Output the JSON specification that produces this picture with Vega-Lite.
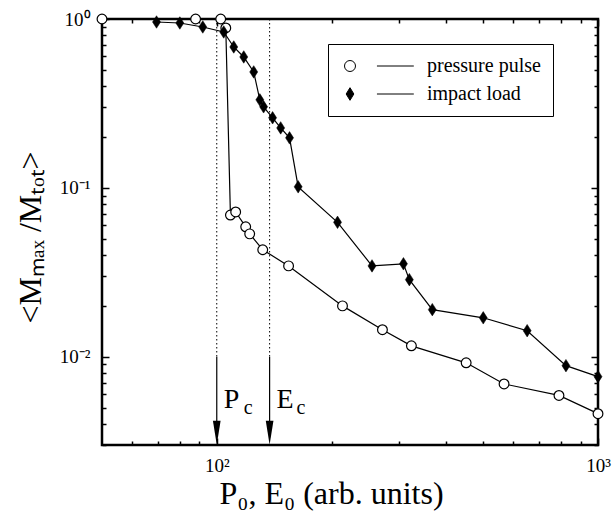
{
  "$schema": "https://vega.github.io/schema/vega-lite/v6.json",
  "width": 496,
  "height": 426,
  "autosize": {"type": "none"},
  "padding": {"left": 102, "top": 19, "right": 15, "bottom": 68},
  "background": "white",
  "config": {
    "view": {"stroke": "black", "strokeWidth": 2.5},
    "font": "Liberation Serif",
    "axis": {
      "grid": false,
      "domain": false,
      "tickColor": "black",
      "tickWidth": 1.5,
      "labelFont": "Liberation Serif",
      "labelFontSize": 19,
      "labelColor": "black",
      "labelOverlap": false,
      "labelFlush": false,
      "titleFont": "Liberation Serif",
      "titleFontWeight": "normal",
      "titleColor": "black"
    }
  },
  "datasets": {
    "curves": [
      {"series": "pressure pulse", "x": 50, "y": 1},
      {"series": "pressure pulse", "x": 88, "y": 1},
      {"series": "pressure pulse", "x": 102.4, "y": 1},
      {"series": "pressure pulse", "x": 105.6, "y": 0.885},
      {"series": "pressure pulse", "x": 108.6, "y": 0.069},
      {"series": "pressure pulse", "x": 112.1, "y": 0.072},
      {"series": "pressure pulse", "x": 119.1, "y": 0.0588},
      {"series": "pressure pulse", "x": 122, "y": 0.0534},
      {"series": "pressure pulse", "x": 132, "y": 0.043},
      {"series": "pressure pulse", "x": 154.3, "y": 0.0345},
      {"series": "pressure pulse", "x": 213.7, "y": 0.02},
      {"series": "pressure pulse", "x": 272, "y": 0.01445},
      {"series": "pressure pulse", "x": 324, "y": 0.0116},
      {"series": "pressure pulse", "x": 451, "y": 0.0092},
      {"series": "pressure pulse", "x": 567, "y": 0.0069},
      {"series": "pressure pulse", "x": 790, "y": 0.0059},
      {"series": "pressure pulse", "x": 1000, "y": 0.0046},
      {"series": "impact load", "x": 69.5, "y": 0.96},
      {"series": "impact load", "x": 80, "y": 0.947},
      {"series": "impact load", "x": 91.9, "y": 0.897},
      {"series": "impact load", "x": 104.3, "y": 0.838},
      {"series": "impact load", "x": 110.8, "y": 0.683},
      {"series": "impact load", "x": 117.7, "y": 0.596},
      {"series": "impact load", "x": 125, "y": 0.486},
      {"series": "impact load", "x": 129.7, "y": 0.332},
      {"series": "impact load", "x": 132.7, "y": 0.302},
      {"series": "impact load", "x": 140.1, "y": 0.26},
      {"series": "impact load", "x": 147.1, "y": 0.2265},
      {"series": "impact load", "x": 155.2, "y": 0.1977},
      {"series": "impact load", "x": 163.5, "y": 0.1014},
      {"series": "impact load", "x": 207.4, "y": 0.0625},
      {"series": "impact load", "x": 255.4, "y": 0.0345},
      {"series": "impact load", "x": 308.8, "y": 0.0355},
      {"series": "impact load", "x": 320, "y": 0.0286},
      {"series": "impact load", "x": 367.6, "y": 0.019},
      {"series": "impact load", "x": 500, "y": 0.017},
      {"series": "impact load", "x": 651.9, "y": 0.01426},
      {"series": "impact load", "x": 824, "y": 0.00885},
      {"series": "impact load", "x": 1000, "y": 0.00762}
    ],
    "thresholds": [
      {"x": 100, "main": "P", "sub": "c", "top": 1, "cut": 0.01, "bottom": 0.0034, "head": 0.00355, "mainY": 0.005, "subY": 0.0046},
      {"x": 137.6, "main": "E", "sub": "c", "top": 1, "cut": 0.01, "bottom": 0.0034, "head": 0.00355, "mainY": 0.005, "subY": 0.0046}
    ]
  },
  "layer": [
    {
      "data": {"name": "thresholds"},
      "mark": {"type": "rule", "strokeDash": [1.5, 2.5], "strokeWidth": 1, "color": "black"},
      "encoding": {
        "x": {"field": "x", "type": "quantitative", "scale": {"type": "log", "domain": [50, 1000], "nice": false}, "axis": null},
        "y": {"field": "top", "type": "quantitative", "scale": {"type": "log", "domain": [0.003, 1], "nice": false}, "axis": null},
        "y2": {"field": "cut"}
      }
    },
    {
      "data": {"name": "thresholds"},
      "mark": {"type": "rule", "strokeWidth": 1.2, "color": "black"},
      "encoding": {
        "x": {"field": "x", "type": "quantitative", "axis": null},
        "y": {"field": "cut", "type": "quantitative", "axis": null},
        "y2": {"field": "bottom"}
      }
    },
    {
      "data": {"name": "thresholds"},
      "mark": {"type": "point", "shape": "M-0.32,-1L0.32,-1L0,1Z", "size": 576, "filled": true, "fill": "black", "opacity": 1},
      "encoding": {
        "x": {"field": "x", "type": "quantitative", "axis": null},
        "y": {"field": "head", "type": "quantitative", "axis": null}
      }
    },
    {
      "data": {"name": "thresholds"},
      "mark": {"type": "text", "align": "left", "baseline": "alphabetic", "dx": 7, "fontSize": 28, "font": "Liberation Serif", "color": "black"},
      "encoding": {
        "x": {"field": "x", "type": "quantitative", "axis": null},
        "y": {"field": "mainY", "type": "quantitative", "axis": null},
        "text": {"field": "main"}
      }
    },
    {
      "data": {"name": "thresholds"},
      "mark": {"type": "text", "align": "left", "baseline": "alphabetic", "dx": 27, "fontSize": 20, "font": "Liberation Serif", "color": "black"},
      "encoding": {
        "x": {"field": "x", "type": "quantitative", "axis": null},
        "y": {"field": "subY", "type": "quantitative", "axis": null},
        "text": {"field": "sub"}
      }
    },
    {
      "data": {"name": "curves"},
      "transform": [{"filter": "datum.series == 'pressure pulse'"}],
      "mark": {"type": "line", "color": "black", "strokeWidth": 1.2},
      "encoding": {
        "x": {
          "field": "x", "type": "quantitative",
          "axis": {
            "orient": "bottom",
            "values": [100, 1000],
            "labelExpr": "datum.value == 100 ? '10²' : '10³'",
            "offset": -7,
            "tickSize": 7,
            "labelPadding": 11,
            "title": "P₀, E₀ (arb. units)",
            "titleFontSize": 32,
            "titleX": 229,
            "titleY": 65,
            "titleBaseline": "alphabetic"
          }
        },
        "y": {
          "field": "y", "type": "quantitative",
          "axis": {
            "orient": "left",
            "values": [0.01, 0.1, 1],
            "labelExpr": "datum.value == 1 ? '10⁰' : datum.value == 0.1 ? '10⁻¹' : '10⁻²'",
            "offset": -7,
            "tickSize": 7,
            "labelPadding": 12,
            "title": "<Mₘₐₓ /Mₜₒₜ>",
            "titleFontSize": 32,
            "titleX": -79,
            "titleY": 218,
            "titleAngle": -90,
            "titleBaseline": "middle",
            "titleAlign": "center"
          }
        }
      }
    },
    {
      "data": {"name": "curves"},
      "transform": [{"filter": "datum.series == 'impact load'"}],
      "mark": {"type": "line", "color": "black", "strokeWidth": 1.2},
      "encoding": {
        "x": {
          "field": "x", "type": "quantitative",
          "axis": {"orient": "top", "values": [100, 1000], "labels": false, "offset": -7, "tickSize": 7, "title": null}
        },
        "y": {
          "field": "y", "type": "quantitative",
          "axis": {"orient": "right", "values": [0.01, 0.1, 1], "labels": false, "offset": -7, "tickSize": 7, "title": null}
        }
      }
    },
    {
      "data": {"name": "curves"},
      "transform": [{"filter": "datum.series == 'pressure pulse'"}],
      "mark": {"type": "point", "shape": "circle", "size": 95, "filled": true, "fill": "white", "stroke": "black", "strokeWidth": 1.2, "opacity": 1},
      "encoding": {
        "x": {
          "field": "x", "type": "quantitative",
          "axis": {"orient": "bottom", "values": [60, 70, 80, 90, 200, 300, 400, 500, 600, 700, 800, 900], "labels": false, "offset": -4, "tickSize": 4, "title": null}
        },
        "y": {
          "field": "y", "type": "quantitative",
          "axis": {"orient": "left", "values": [0.003, 0.004, 0.005, 0.006, 0.007, 0.008, 0.009, 0.02, 0.03, 0.04, 0.05, 0.06, 0.07, 0.08, 0.09, 0.2, 0.3, 0.4, 0.5, 0.6, 0.7, 0.8, 0.9], "labels": false, "offset": -4, "tickSize": 4, "title": null}
        }
      }
    },
    {
      "data": {"name": "curves"},
      "transform": [{"filter": "datum.series == 'impact load'"}],
      "mark": {"type": "point", "shape": "M0,-1.25L0.8,0L0,1.25L-0.8,0Z", "size": 100, "filled": true, "fill": "black", "stroke": "black", "strokeWidth": 0.5, "opacity": 1},
      "encoding": {
        "x": {
          "field": "x", "type": "quantitative",
          "axis": {"orient": "top", "values": [60, 70, 80, 90, 200, 300, 400, 500, 600, 700, 800, 900], "labels": false, "offset": -4, "tickSize": 4, "title": null}
        },
        "y": {
          "field": "y", "type": "quantitative",
          "axis": {"orient": "right", "values": [0.003, 0.004, 0.005, 0.006, 0.007, 0.008, 0.009, 0.02, 0.03, 0.04, 0.05, 0.06, 0.07, 0.08, 0.09, 0.2, 0.3, 0.4, 0.5, 0.6, 0.7, 0.8, 0.9], "labels": false, "offset": -4, "tickSize": 4, "title": null}
        }
      }
    },
    {
      "data": {"name": "curves"},
      "mark": {"type": "point", "filled": true, "opacity": 0, "size": 121, "stroke": "black", "strokeWidth": 1},
      "encoding": {
        "x": {"field": "x", "type": "quantitative", "axis": null},
        "y": {"field": "y", "type": "quantitative", "axis": null},
        "shape": {
          "field": "series", "type": "nominal",
          "scale": {"domain": ["pressure pulse", "impact load"], "range": ["M-1,0A1,1,0,1,1,1,0A1,1,0,1,1,-1,0Z M4.9,0L11.6,0", "M0,-1.15L0.7,0L0,1.15L-0.7,0Z M4.9,0L11.6,0"]},
          "legend": {
            "title": null, "orient": "none", "legendX": 226, "legendY": 25, "direction": "vertical",
            "strokeColor": "black", "padding": 12, "symbolSize": 121,
            "symbolStrokeColor": "black", "symbolStrokeWidth": 1, "symbolOpacity": 1,
            "labelFont": "Liberation Serif", "labelFontSize": 20, "labelColor": "black",
            "labelOffset": 67, "rowPadding": 8, "labelLimit": 300
          }
        },
        "fill": {
          "field": "series", "type": "nominal",
          "scale": {"domain": ["pressure pulse", "impact load"], "range": ["white", "black"]},
          "legend": {
            "title": null, "orient": "none", "legendX": 226, "legendY": 25, "direction": "vertical",
            "strokeColor": "black", "padding": 12, "symbolSize": 121,
            "symbolStrokeColor": "black", "symbolStrokeWidth": 1, "symbolOpacity": 1,
            "labelFont": "Liberation Serif", "labelFontSize": 20, "labelColor": "black",
            "labelOffset": 67, "rowPadding": 8, "labelLimit": 300
          }
        },
        "stroke": {
          "field": "series", "type": "nominal",
          "scale": {"domain": ["pressure pulse", "impact load"], "range": ["black", "black"]},
          "legend": {
            "title": null, "orient": "none", "legendX": 226, "legendY": 25, "direction": "vertical",
            "strokeColor": "black", "padding": 12, "symbolSize": 121,
            "symbolStrokeColor": "black", "symbolStrokeWidth": 1, "symbolOpacity": 1,
            "labelFont": "Liberation Serif", "labelFontSize": 20, "labelColor": "black",
            "labelOffset": 67, "rowPadding": 8, "labelLimit": 300
          }
        }
      }
    }
  ],
  "resolve": {"axis": {"x": "independent", "y": "independent"}}
}
